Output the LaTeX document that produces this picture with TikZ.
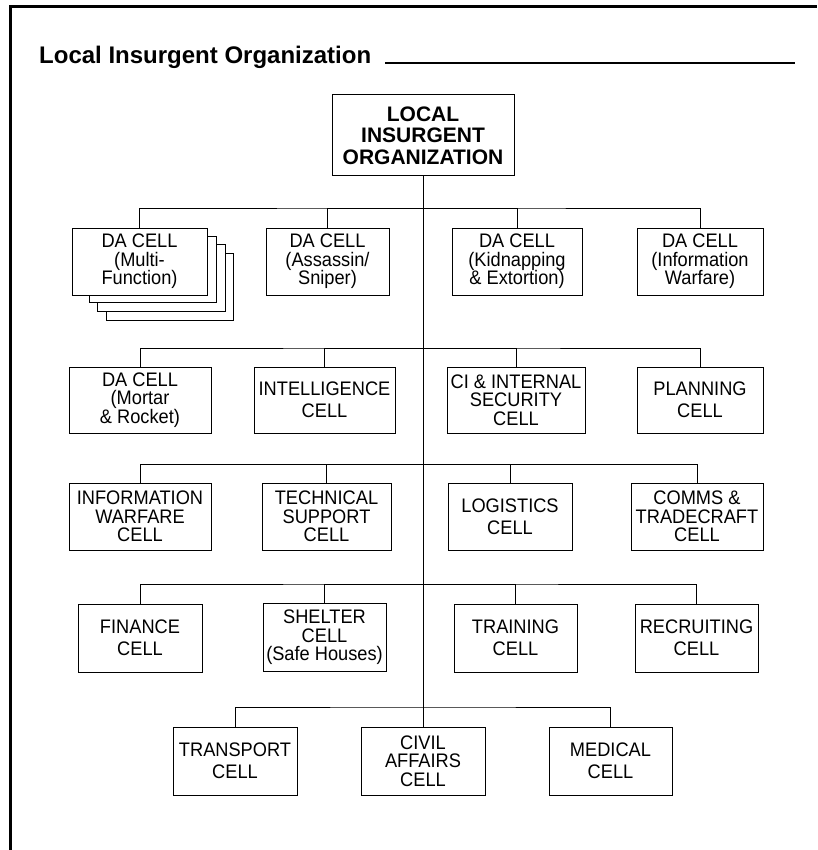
\documentclass[tikz,border=0pt]{standalone}
\usepackage{fontspec}
\setmainfont{Liberation Sans}
\newfontfamily\cellfamily[FakeStretch=0.93]{Liberation Sans}
\begin{document}
\begin{tikzpicture}[x=1pt,y=-1pt,
  cell/.style={draw, line width=1pt, fill=white, align=center, inner sep=0pt,
    font=\cellfamily\fontsize{19.6}{18.4}\selectfont},
  celltwo/.style={cell, font=\cellfamily\fontsize{19.6}{21.7}\selectfont},
  rootbox/.style={draw, line width=1pt, fill=white, align=center, inner sep=0pt,
    font=\bfseries\fontsize{21}{21.5}\selectfont},
  conn/.style={line width=1pt},
  frameline/.style={line width=2.7pt}]
\useasboundingbox (0,0) rectangle (817,850);
% frame
\draw[frameline] (10.3,850) -- (10.3,6.2) -- (817,6.2);
% title
\node[anchor=base west, inner sep=0pt, font=\bfseries\fontsize{24}{28}\selectfont] (title) at (39,64) {Local Insurgent Organization};
\coordinate (ulA) at (385,63);
\coordinate (ulB) at (795,63);
\draw[line width=2.4pt] (ulA) -- (ulB);
% root
\node[rootbox, minimum width=182pt, minimum height=81pt] (root) at (423,135.5) {LOCAL\\INSURGENT\\ORGANIZATION};
% row 1
\node[cell, minimum width=127pt, minimum height=67pt] (mc3) at (169.5,286.5) {};
\node[cell, minimum width=128pt, minimum height=67pt] (mc2) at (161,277.5) {};
\node[cell, minimum width=127pt, minimum height=66pt] (mc1) at (152.5,269) {};
\node[cell, minimum width=135pt, minimum height=67pt] (m1) at (139.5,261.5) {DA CELL\\(Multi-\\Function)};
\node[cell, minimum width=123pt, minimum height=67pt] (a1) at (327.5,261.5) {DA CELL\\(Assassin/\\Sniper)};
\node[cell, minimum width=130pt, minimum height=67pt] (k1) at (517,261.5) {DA CELL\\(Kidnapping\\\& Extortion)};
\node[cell, minimum width=126pt, minimum height=67pt] (w1) at (700,261.5) {DA CELL\\(Information\\Warfare)};
% row 2
\node[cell, minimum width=142pt, minimum height=66pt] (mort) at (140,400) {DA CELL\\(Mortar\\\& Rocket)};
\node[celltwo, minimum width=141pt, minimum height=66pt] (intel) at (324.5,400) {INTELLIGENCE\\CELL};
\node[cell, minimum width=138pt, minimum height=66pt] (ci) at (516,400) {CI \& INTERNAL\\SECURITY\\CELL};
\node[celltwo, minimum width=126pt, minimum height=66pt] (plan) at (700,400) {PLANNING\\CELL};
% row 3
\node[cell, minimum width=142pt, minimum height=67pt] (iw) at (140,516.5) {INFORMATION\\WARFARE\\CELL};
\node[cell, minimum width=129pt, minimum height=67pt] (tech) at (326.5,516.5) {TECHNICAL\\SUPPORT\\CELL};
\node[celltwo, minimum width=124pt, minimum height=67pt] (log) at (510,516.5) {LOGISTICS\\CELL};
\node[cell, minimum width=132pt, minimum height=67pt] (comms) at (697,516.5) {COMMS \&\\TRADECRAFT\\CELL};
% row 4
\node[celltwo, minimum width=124pt, minimum height=68pt] (fin) at (140,638) {FINANCE\\CELL};
\node[cell, minimum width=123pt, minimum height=68pt] (shel) at (324.5,637.5) {SHELTER\\CELL\\(Safe Houses)};
\node[celltwo, minimum width=123pt, minimum height=68pt] (train) at (515.5,638) {TRAINING\\CELL};
\node[celltwo, minimum width=123pt, minimum height=68pt] (recr) at (696.5,638) {RECRUITING\\CELL};
% row 5
\node[celltwo, minimum width=124pt, minimum height=68pt] (trans) at (235,761) {TRANSPORT\\CELL};
\node[cell, minimum width=124pt, minimum height=68pt] (civil) at (423,761) {CIVIL\\AFFAIRS\\CELL};
\node[celltwo, minimum width=123pt, minimum height=68pt] (med) at (610.5,761) {MEDICAL\\CELL};
% buses
\coordinate (b1) at (423,209);
\coordinate (b2) at (423,348);
\coordinate (b3) at (423,464.5);
\coordinate (b4) at (423,584);
\coordinate (b5) at (423,707);
\draw[conn] (root.south) -- (civil.north);
\draw[conn] (m1.north) |- (b1) -| (w1.north);
\draw[conn] (a1.north) |- (b1);
\draw[conn] (k1.north) |- (b1);
\draw[conn] (mort.north) |- (b2) -| (plan.north);
\draw[conn] (intel.north) |- (b2);
\draw[conn] (ci.north) |- (b2);
\draw[conn] (iw.north) |- (b3) -| (comms.north);
\draw[conn] (tech.north) |- (b3);
\draw[conn] (log.north) |- (b3);
\draw[conn] (fin.north) |- (b4) -| (recr.north);
\draw[conn] (shel.north) |- (b4);
\draw[conn] (train.north) |- (b4);
\draw[conn] (trans.north) |- (b5) -| (med.north);
\end{tikzpicture}
\end{document}
